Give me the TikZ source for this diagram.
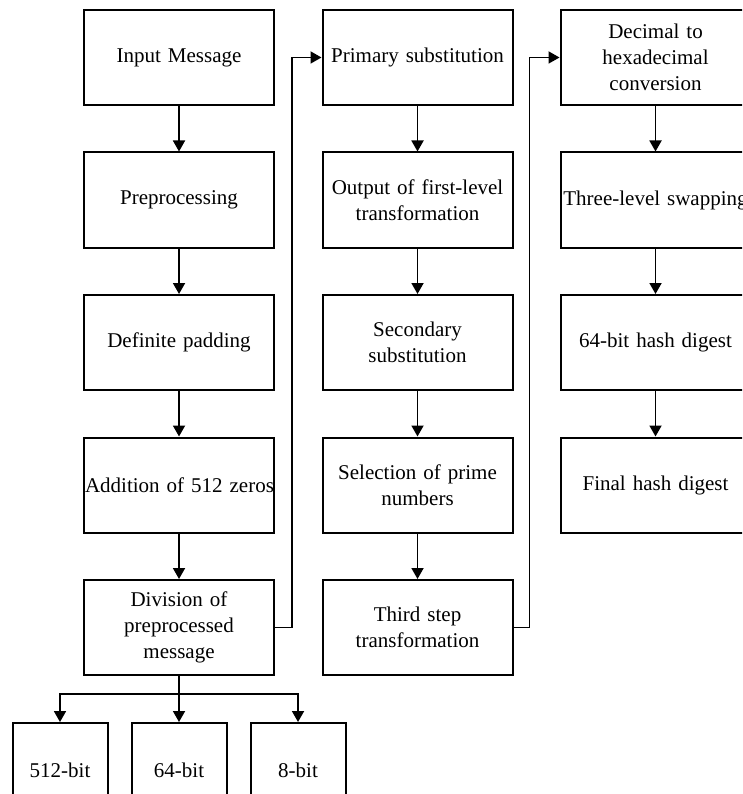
\documentclass[tikz,border=0pt]{standalone}
\usepackage{fontspec}
\setmainfont{Liberation Serif}
\usepackage{tikz}
\usetikzlibrary{arrows.meta}
\usetikzlibrary{positioning}
\tikzstyle{block} = [draw, line width=2pt, rectangle, minimum width=190pt, minimum height=95pt, text width=188pt, inner sep=1pt, align=center, font=\fontsize{21}{26}\selectfont]
\tikzstyle{bitbox} = [block, minimum width=95pt, text width=93pt]
\tikzstyle{flow} = [line width=1.8pt, -{Triangle[length=11pt,width=12pt]}]

\begin{document}
\begin{tikzpicture}[x=1pt, y=-1pt]
\useasboundingbox (0,0) rectangle (742,794);
\clip (0,0) rectangle (742,794);
% first column
\node [block] (input) at (179,57.5) {Input Message};
\node [block, below=45.5pt of input] (preproc) {Preprocessing};
\node [block, below=45.5pt of preproc] (padding) {Definite padding};
\node [block, below=45.5pt of padding] (zeros) {\mbox{Addition of 512 zeros}};
\node [block, below=45.5pt of zeros] (division) {Division of\\preprocessed\\message};
% block sizes
\node [bitbox, below=46pt of division] (bits64) {64-bit};
\node [bitbox, left=22pt of bits64] (bits512) {512-bit};
\node [bitbox, right=22pt of bits64] (bits8) {8-bit};
% second column
\node [block, right=46.5pt of input] (primary) {Primary substitution};
\node [block, below=45.5pt of primary] (firstout) {Output of first-level\\transformation};
\node [block, below=45.5pt of firstout] (secondary) {Secondary\\substitution};
\node [block, below=45.5pt of secondary] (primes) {Selection of prime\\numbers};
\node [block, below=45.5pt of primes] (third) {Third step\\transformation};
% third column
\node [block, right=46pt of primary] (hexconv) {Decimal to\\hexadecimal\\conversion};
\node [block, below=45.5pt of hexconv] (swapping) {\mbox{Three-level swapping}};
\node [block, below=45.5pt of swapping] (digest64) {64-bit hash digest};
\node [block, below=45.5pt of digest64] (final) {Final hash digest};

\draw [flow] (input) -- (preproc);
\draw [flow] (preproc) -- (padding);
\draw [flow] (padding) -- (zeros);
\draw [flow] (zeros) -- (division);
\draw [flow] (division) -- (bits64);
\draw [flow] (division.south) -- ++(0,18) -| (bits512.north);
\draw [flow] (division.south) -- ++(0,18) -| (bits8.north);
\draw [flow] (division.east) -- ++(17,0) |- (primary.west);
\draw [flow] (primary) -- (firstout);
\draw [flow] (firstout) -- (secondary);
\draw [flow] (secondary) -- (primes);
\draw [flow] (primes) -- (third);
\draw [flow] (third.east) -- ++(16,0) |- (hexconv.west);
\draw [flow] (hexconv) -- (swapping);
\draw [flow] (swapping) -- (digest64);
\draw [flow] (digest64) -- (final);
\end{tikzpicture}
\end{document}
